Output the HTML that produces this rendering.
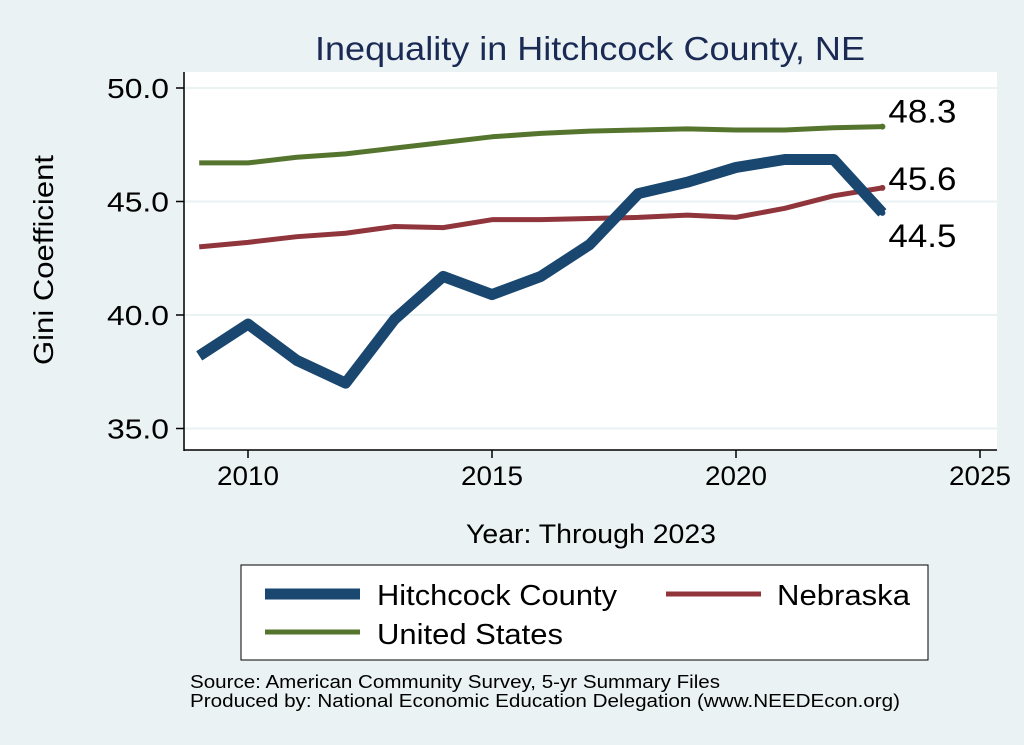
<!DOCTYPE html>
<html><head><meta charset="utf-8"><style>
body{margin:0;background:#eaf2f3;}
svg{display:block;font-family:"Liberation Sans",sans-serif;}
</style></head><body>
<svg id="chart" width="1024" height="745">
<rect x="0" y="0" width="1024" height="745" fill="#eaf2f3"/>
<rect x="185" y="72" width="812" height="378" fill="#fff"/>
<text x="315" y="60" font-size="33" fill="#1a2a55" textLength="550" lengthAdjust="spacingAndGlyphs">Inequality in Hitchcock County, NE</text>
<g id="grid"></g>
<line x1="184" y1="72" x2="184" y2="451" stroke="#000" stroke-width="1.5"/>
<line x1="184" y1="450" x2="997" y2="450" stroke="#000" stroke-width="1.5"/>
<g id="ticks"></g>
<g id="series"></g>
<text x="0" y="0" font-size="28" transform="translate(53 365) rotate(-90)" textLength="210" lengthAdjust="spacingAndGlyphs">Gini Coefficient</text>
<text x="466" y="543" font-size="27" textLength="250" lengthAdjust="spacingAndGlyphs">Year: Through 2023</text>
<g>
<rect x="241" y="565" width="687" height="95" fill="#fff" stroke="#000" stroke-width="1"/>
<line x1="265" y1="594" x2="360" y2="594" stroke="#1a476f" stroke-width="11"/>
<text x="377" y="605" font-size="29" textLength="240" lengthAdjust="spacingAndGlyphs">Hitchcock County</text>
<line x1="666" y1="594" x2="761" y2="594" stroke="#90353b" stroke-width="5"/>
<text x="777" y="605" font-size="29" textLength="133" lengthAdjust="spacingAndGlyphs">Nebraska</text>
<line x1="265" y1="632" x2="360" y2="632" stroke="#55752f" stroke-width="5"/>
<text x="377" y="644" font-size="29" textLength="186" lengthAdjust="spacingAndGlyphs">United States</text>
</g>
<text x="190" y="688" font-size="18" textLength="530" lengthAdjust="spacingAndGlyphs">Source: American Community Survey, 5-yr Summary Files</text>
<text x="190" y="707" font-size="18" textLength="710" lengthAdjust="spacingAndGlyphs">Produced by: National Economic Education Delegation (www.NEEDEcon.org)</text>
</svg>
<script>
const years=[2009,2010,2011,2012,2013,2014,2015,2016,2017,2018,2019,2020,2021,2022,2023];
const hitchcock=[38.2,39.6,38.0,37.0,39.8,41.7,40.9,41.7,43.1,45.35,45.85,46.5,46.85,46.85,44.5];
const nebraska=[43.0,43.2,43.45,43.6,43.9,43.85,44.2,44.2,44.25,44.3,44.4,44.3,44.7,45.25,45.6];
const us=[46.7,46.7,46.95,47.1,47.35,47.6,47.85,48.0,48.1,48.15,48.2,48.15,48.15,48.25,48.3];
const yTicks=[35,40,45,50];
const yTickLabels=["35.0","40.0","45.0","50.0"];
const xTicks=[2010,2015,2020,2025];
const NS="http://www.w3.org/2000/svg";
const X=v=>248+(v-2010)*48.8;
const Y=v=>88+(50-v)*22.7;
function mk(t,a,p){const e=document.createElementNS(NS,t);for(const k in a)e.setAttribute(k,a[k]);p.appendChild(e);return e;}
const grid=document.getElementById('grid'),ticks=document.getElementById('ticks'),ser=document.getElementById('series');
yTicks.forEach((v,i)=>{
 const g=mk('line',{x1:185,x2:997,y1:Y(v),y2:Y(v),stroke:'#eaf2f3','stroke-width':2},grid);
 
 
 const t=mk('line',{x1:176,x2:184,y1:Y(v),y2:Y(v),stroke:'#000','stroke-width':1.5},ticks);
 
 
 const l=mk('text',{x:107,y:Y(v)+10,'font-size':28,textLength:62,lengthAdjust:'spacingAndGlyphs'},ticks);l.textContent=yTickLabels[i];
 
 
});
xTicks.forEach(v=>{
 const t=mk('line',{x1:X(v),x2:X(v),y1:450,y2:458,stroke:'#000','stroke-width':1.5},ticks);
 
 
 const l=mk('text',{x:X(v)-31,y:485,'font-size':27,textLength:62,lengthAdjust:'spacingAndGlyphs'},ticks);l.textContent=v;
 
 
});
function line(vals,color,w,name){
 const p=mk('polyline',{points:vals.map((v,i)=>X(years[i])+','+Y(v)).join(' '),fill:'none',stroke:color,'stroke-width':w,'stroke-linejoin':'round'},ser);
 
 
 const d=mk('circle',{cx:X(years[years.length-1]),cy:Y(vals[vals.length-1]),r:3,fill:color},ser);
 
 
}
line(us,'#55752f',5,'line-us');
line(nebraska,'#90353b',5,'line-nebraska');
line(hitchcock,'#1a476f',11,'line-hitchcock');
const lx=X(2023)+6;
[[us,-4,'label-us'],[nebraska,2,'label-nebraska'],[hitchcock,34,'label-hitchcock']].forEach(([a,dy,n])=>{
 const v=a[a.length-1];
 const t=mk('text',{x:lx,y:Y(v)+dy,'font-size':32,textLength:68,lengthAdjust:'spacingAndGlyphs'},ser);t.textContent=v.toFixed(1);
 
 
});
</script>
</body></html>
